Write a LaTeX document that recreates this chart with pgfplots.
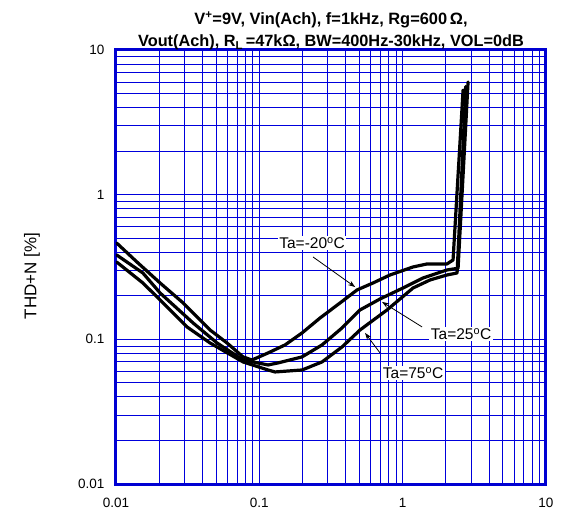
\documentclass[border=0pt]{standalone}
\usepackage{fontspec}
\setmainfont{Liberation Sans}
\usepackage{pgfplots}
\pgfplotsset{compat=1.18}
\usetikzlibrary{arrows.meta}
\definecolor{gridblue}{RGB}{0,0,220}
\definecolor{frameblue}{RGB}{0,0,210}
\tikzset{curve/.style={black, line width=3.2pt, line join=round, line cap=round, mark=none}}
\begin{document}
\begin{tikzpicture}
\path[use as bounding box] (-116pt,-27pt) rectangle (449pt,484pt);
\begin{axis}[
  scale only axis, width=430pt, height=434pt,
  xmode=log, ymode=log,
  xmin=0.01, xmax=10, ymin=0.01, ymax=10,
  xtick={0.01,0.1,1,10}, xticklabels={0.01,0.1,1,10},
  ytick={0.01,0.1,1,10}, yticklabels={0.01,0.1,1,10},
  minor xtick={0.02,0.03,0.04,0.05,0.06,0.07,0.08,0.09,0.2,0.3,0.4,0.5,0.6,0.7,0.8,0.9,2,3,4,5,6,7,8,9},
  minor ytick={0.02,0.03,0.04,0.05,0.06,0.07,0.08,0.09,0.2,0.3,0.4,0.5,0.6,0.7,0.8,0.9,2,3,4,5,6,7,8,9},
  grid=both,
  major grid style={gridblue, line width=0.9pt},
  minor grid style={gridblue, line width=0.9pt},
  axis line style={frameblue, line width=3pt},
  major tick length=0pt, minor tick length=0pt,
  tick style={draw=none},
  ticklabel style={font=\fontsize{13.5}{16}\selectfont},
  xticklabel style={yshift=-11pt},
  yticklabel style={xshift=-8pt},
  /pgf/number format/assume math mode=true,
]
% Ta = -20 C
\addplot[curve] table {
0.0101 0.4636
0.0140 0.3425
0.0203 0.2453
0.0294 0.1785
0.0453 0.1161
0.0595 0.0944
0.0770 0.0756
0.0889 0.0720
0.1150 0.0805
0.1512 0.0915
0.1986 0.1107
0.2653 0.1405
0.3659 0.1785
0.4807 0.2195
0.6214 0.2453
0.8167 0.2786
1.182 0.3165
1.480 0.3320
2.040 0.3320
2.247 0.3537
2.64 5.29
};
% Ta = 25 C
\addplot[curve] table {
0.0101 0.3832
0.0154 0.2875
0.0203 0.2092
0.0345 0.1298
0.0507 0.0944
0.0770 0.0720
0.1150 0.0665
0.1350 0.0687
0.1986 0.0756
0.2739 0.0915
0.3777 0.1199
0.5043 0.1597
0.6956 0.1902
1.006 0.2265
1.388 0.2656
2.040 0.3017
2.436 0.3100
2.86 6.01
};
% Ta = 75 C
\addplot[curve] table {
0.0101 0.3425
0.0154 0.2453
0.0203 0.1872
0.0313 0.1218
0.0453 0.0944
0.0770 0.0698
0.1150 0.0614
0.1287 0.0595
0.1986 0.0614
0.2739 0.0698
0.3777 0.0886
0.5043 0.1161
0.7783 0.1597
1.182 0.2265
1.553 0.2573
2.040 0.2786
2.397 0.2875
2.76 5.60
};
\draw[-{Stealth[length=7pt,width=5pt]}, line width=0.8pt] (axis cs:0.237,0.371) -- (axis cs:0.466,0.230);
\draw[-{Stealth[length=7pt,width=5pt]}, line width=0.8pt] (axis cs:1.366,0.1218) -- (axis cs:0.718,0.1814);
\draw[-{Stealth[length=7pt,width=5pt]}, line width=0.8pt] (axis cs:0.6956,0.0805) -- (axis cs:0.5465,0.1107);
\node[fill=white, inner sep=1.5pt, font=\fontsize{15.5}{18}\selectfont] at (axis cs:0.2335,0.4636) {Ta=-20\textsuperscript{o}C};
\node[fill=white, inner sep=1.5pt, font=\fontsize{15.5}{18}\selectfont] at (axis cs:2.556,0.109) {Ta=25\textsuperscript{o}C};
\node[fill=white, inner sep=1.5pt, font=\fontsize{15.5}{18}\selectfont] at (axis cs:1.182,0.0586) {Ta=75\textsuperscript{o}C};
\end{axis}
\node[anchor=base, font=\bfseries\fontsize{16.4}{19}\selectfont] at (215pt,459pt) {V\textsuperscript{+}=9V, Vin(Ach), f=1kHz, Rg=600\,Ω,};
\node[anchor=base, font=\bfseries\fontsize{16.3}{19}\selectfont] at (215pt,437pt) {Vout(Ach), R\textsubscript{L}\,=47kΩ, BW=400Hz-30kHz, VOL=0dB};
\node[rotate=90, font=\fontsize{17}{20}\selectfont] at (-84pt,208pt) {THD+N [\%]};
\end{tikzpicture}
\end{document}
